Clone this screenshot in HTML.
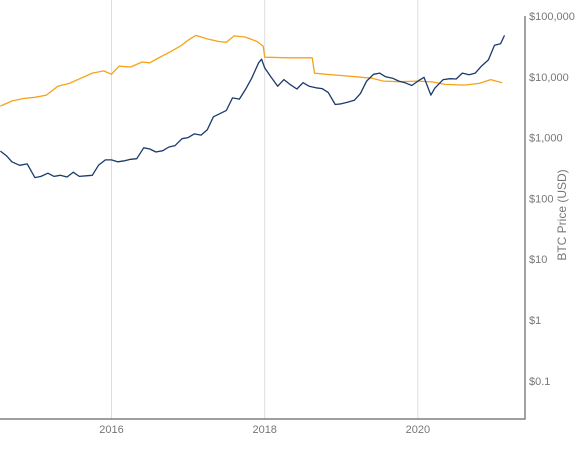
<!DOCTYPE html>
<html><head><meta charset="utf-8"><style>
body{margin:0;background:#fff;font-family:"Liberation Sans",sans-serif}
svg text{font-family:"Liberation Sans",sans-serif}
</style></head><body>
<svg id="chart" width="580" height="450" xmlns="http://www.w3.org/2000/svg">
<g id="grid"></g>
<g id="series"></g>
<g id="axes"></g>
<text transform="translate(566,215) rotate(-90)" text-anchor="middle" font-size="12" fill="#777">BTC Price (USD)</text>
</svg>
<script>
const xTicks=[2016,2018,2020];
const yTicks=[100000,10000,1000,100,10,1,0.1];
const yTickLabels=["$100,000","$10,000","$1,000","$100","$10","$1","$0.1"];
const priceDates=[2014.55,2014.63,2014.7,2014.8,2014.9,2015.0,2015.08,2015.17,2015.25,2015.33,2015.42,2015.5,2015.58,2015.67,2015.75,2015.83,2015.92,2016.0,2016.08,2016.17,2016.25,2016.33,2016.42,2016.5,2016.58,2016.67,2016.75,2016.83,2016.92,2017.0,2017.08,2017.17,2017.25,2017.33,2017.42,2017.5,2017.58,2017.67,2017.75,2017.83,2017.92,2017.96,2018.0,2018.08,2018.17,2018.25,2018.33,2018.42,2018.5,2018.58,2018.67,2018.75,2018.83,2018.92,2019.0,2019.08,2019.17,2019.25,2019.33,2019.42,2019.5,2019.58,2019.67,2019.75,2019.83,2019.92,2020.0,2020.08,2020.17,2020.22,2020.33,2020.42,2020.5,2020.58,2020.67,2020.75,2020.83,2020.92,2021.0,2021.08,2021.13];
const priceValues=[600,500,400,350,370,220,230,260,230,240,225,270,230,235,240,350,430,430,400,415,440,450,680,650,580,610,700,740,960,1000,1150,1100,1350,2200,2500,2800,4500,4300,6200,9500,17000,19500,14000,10000,7000,9000,7500,6300,8000,7000,6600,6400,5500,3500,3600,3800,4100,5300,8500,11000,11500,10000,9500,8500,8000,7200,8500,9800,5000,6500,9000,9300,9200,11500,10800,11500,15000,19000,33000,35000,48000];
const modelDates=[2014.55,2014.7,2014.85,2015.0,2015.15,2015.3,2015.45,2015.6,2015.75,2015.9,2016.0,2016.1,2016.25,2016.4,2016.5,2016.6,2016.75,2016.9,2017.0,2017.1,2017.25,2017.4,2017.5,2017.6,2017.75,2017.9,2017.98,2018.0,2018.3,2018.62,2018.65,2018.8,2019.0,2019.2,2019.4,2019.55,2019.75,2020.0,2020.2,2020.35,2020.6,2020.8,2020.95,2021.1];
const modelValues=[3300,4000,4400,4600,5000,7000,7800,9500,11500,12500,11000,15000,14500,17500,17000,20000,25000,32000,40000,48000,42000,38000,37000,47000,45000,38000,32000,21000,20500,20500,11500,11000,10500,10000,9500,8500,8300,8500,8200,7500,7300,7800,9000,8000];
const NS="http://www.w3.org/2000/svg";
const xScale=t=>111.5+(t-2016)*76.6;
const yScale=v=>16+(5-Math.log10(v))*60.8;
const plotLeft=0,plotRight=525,plotTop=0,plotBottom=419;
function el(tag,attrs,parent){const e=document.createElementNS(NS,tag);for(const k in attrs)e.setAttribute(k,attrs[k]);parent.appendChild(e);return e;}
const gridG=document.getElementById('grid'),axesG=document.getElementById('axes'),seriesG=document.getElementById('series');
xTicks.forEach(t=>{
 const l=el('line',{x1:xScale(t),x2:xScale(t),y1:plotTop,y2:plotBottom,stroke:'#ddd','stroke-width':1},gridG);
 
 
 const tx=el('text',{x:xScale(t),y:plotBottom+14,'text-anchor':'middle','font-size':11,fill:'#777'},axesG);
 tx.textContent=t;
 
 
});
yTicks.forEach((v,i)=>{
 const tx=el('text',{x:plotRight+4,y:yScale(v)+4,'font-size':11,fill:'#777'},axesG);
 tx.textContent=yTickLabels[i];
 
 
});
const ax=el('path',{d:`M${plotLeft},${plotBottom}H${plotRight}V16`,fill:'none',stroke:'#666','stroke-width':1.2},axesG);


function drawLine(dates,vals,color,name){
 const d=dates.map((t,i)=>(i?'L':'M')+xScale(t).toFixed(1)+','+yScale(vals[i]).toFixed(1)).join('');
 const p=el('path',{d:d,fill:'none',stroke:color,'stroke-width':1.3,'stroke-linejoin':'round'},seriesG);
 
 
}
drawLine(modelDates,modelValues,'#f7a21b','model-price-line');
drawLine(priceDates,priceValues,'#1a3a6b','btc-price-line');
</script>
</body></html>
